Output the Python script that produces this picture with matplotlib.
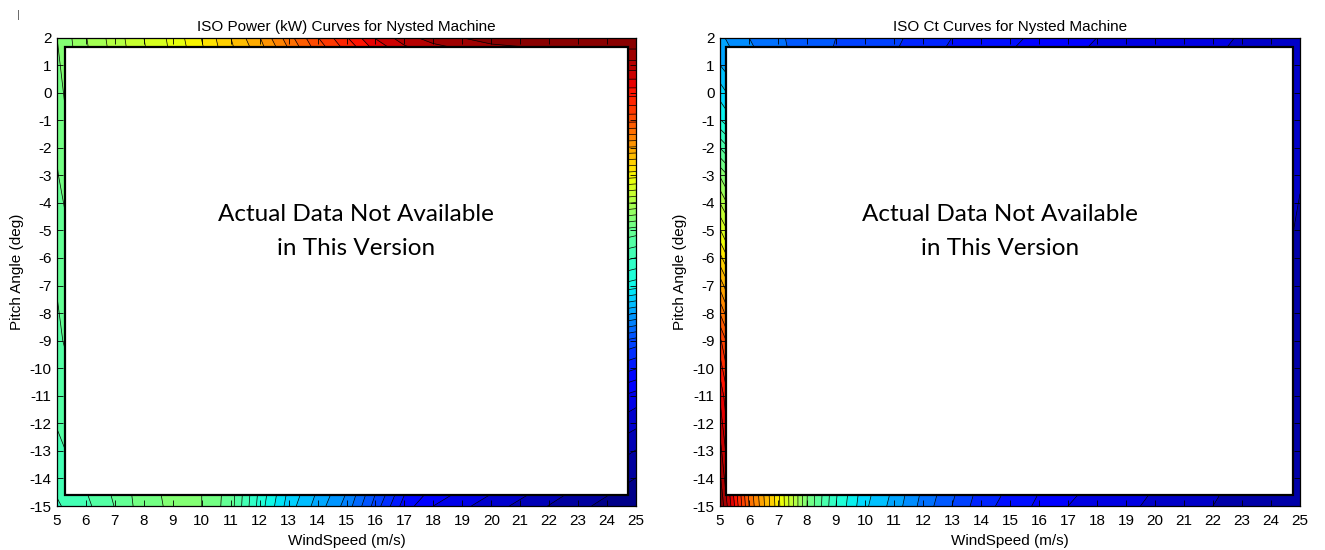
import matplotlib
matplotlib.use("Agg")
import matplotlib.pyplot as plt
from matplotlib.patches import Rectangle
import numpy as np

# Grid axes
wind_speed = [5, 6, 7, 8, 9, 10, 11, 12, 13, 14, 15, 16, 17, 18, 20, 22, 25]
pitch_angle = [2, 1, -1, -3, -5, -7, -9, -11, -13, -15]

# ISO power (kW); one row per pitch angle, one column per wind speed
power_kw = [
    [1150, 1240, 1310, 1380, 1440, 1520, 1610, 1700, 1820, 1930, 2020, 2120, 2190, 2230, 2280, 2300, 2300],
    [1140, 1230, 1300, 1370, 1430, 1500, 1590, 1660, 1760, 1870, 1950, 2030, 2090, 2130, 2170, 2190, 2190],
    [1120, 1210, 1270, 1340, 1390, 1450, 1520, 1560, 1630, 1710, 1770, 1820, 1850, 1880, 1900, 1910, 1900],
    [1100, 1180, 1230, 1290, 1330, 1380, 1410, 1420, 1450, 1500, 1530, 1550, 1550, 1550, 1550, 1530, 1490],
    [1080, 1140, 1190, 1240, 1270, 1300, 1310, 1270, 1270, 1290, 1290, 1270, 1240, 1230, 1200, 1160, 1080],
    [1060, 1120, 1170, 1220, 1250, 1270, 1260, 1200, 1170, 1160, 1140, 1100, 1050, 1020, 980, 940, 850],
    [1050, 1090, 1130, 1180, 1190, 1190, 1160, 1050, 990, 950, 900, 830, 740, 700, 630, 560, 440],
    [1030, 1070, 1100, 1150, 1170, 1150, 1110, 970, 870, 810, 750, 650, 540, 480, 410, 330, 210],
    [1000, 1040, 1080, 1140, 1170, 1150, 1090, 930, 810, 730, 650, 530, 410, 350, 270, 200, 90],
    [960, 1000, 1060, 1130, 1160, 1150, 1080, 900, 760, 670, 580, 440, 300, 230, 160, 90, 0],
]

# Thrust coefficient Ct; same layout
thrust_ct = [
    [0.280, 0.250, 0.230, 0.210, 0.200, 0.190, 0.180, 0.165, 0.150, 0.140, 0.130, 0.120, 0.110, 0.100, 0.090, 0.080, 0.060],
    [0.300, 0.263, 0.237, 0.210, 0.196, 0.183, 0.173, 0.156, 0.141, 0.130, 0.121, 0.111, 0.101, 0.092, 0.084, 0.075, 0.058],
    [0.377, 0.318, 0.279, 0.236, 0.211, 0.192, 0.178, 0.159, 0.141, 0.127, 0.117, 0.107, 0.096, 0.088, 0.079, 0.070, 0.055],
    [0.522, 0.440, 0.383, 0.321, 0.283, 0.254, 0.233, 0.207, 0.183, 0.162, 0.148, 0.134, 0.119, 0.108, 0.092, 0.076, 0.051],
    [0.627, 0.524, 0.452, 0.372, 0.322, 0.285, 0.260, 0.228, 0.201, 0.176, 0.159, 0.143, 0.126, 0.113, 0.094, 0.075, 0.048],
    [0.741, 0.617, 0.530, 0.431, 0.370, 0.324, 0.294, 0.257, 0.224, 0.195, 0.175, 0.156, 0.137, 0.123, 0.099, 0.076, 0.044],
    [0.856, 0.710, 0.607, 0.491, 0.417, 0.363, 0.328, 0.285, 0.248, 0.213, 0.192, 0.170, 0.148, 0.132, 0.105, 0.077, 0.041],
    [0.921, 0.756, 0.640, 0.508, 0.425, 0.365, 0.327, 0.281, 0.242, 0.205, 0.183, 0.161, 0.138, 0.124, 0.097, 0.071, 0.037],
    [0.960, 0.778, 0.650, 0.504, 0.412, 0.347, 0.309, 0.260, 0.221, 0.182, 0.161, 0.140, 0.119, 0.107, 0.084, 0.060, 0.034],
    [1.000, 0.800, 0.660, 0.500, 0.400, 0.330, 0.290, 0.240, 0.200, 0.160, 0.140, 0.120, 0.100, 0.090, 0.070, 0.050, 0.030],
]

x_ticks = list(range(5, 26))
y_ticks = list(range(-15, 3))

titles = ["ISO Power (kW) Curves for Nysted Machine", "ISO Ct Curves for Nysted Machine"]
notice = ["Actual Data Not Available", "in This Version"]

plt.rcParams["font.family"] = ["Liberation Sans", "DejaVu Sans"]
plt.rcParams["axes.unicode_minus"] = False

fig = plt.figure(figsize=(13.25, 5.5), dpi=100)

panels = [
    dict(rect=[57 / 1325, 44 / 550, 579 / 1325, 468.5 / 550], z=power_kw,
         levels=np.linspace(0, 2300, 51), cover=(0.0138, 0.0235, 0.9855, 0.980),
         text_x=0.516, title=titles[0]),
    dict(rect=[720 / 1325, 44 / 550, 580 / 1325, 468.5 / 550], z=thrust_ct,
         levels=np.linspace(0, 1.0, 41), cover=(0.0112, 0.0235, 0.9872, 0.980),
         text_x=0.483, title=titles[1]),
]

W, P = np.meshgrid(wind_speed, pitch_angle)

for p in panels:
    ax = fig.add_axes(p["rect"])
    Z = np.array(p["z"], dtype=float)
    ax.contourf(W, P, Z, levels=p["levels"], cmap="jet", extend="both", zorder=1)
    ax.contour(W, P, Z, levels=p["levels"], colors="black", linewidths=0.5, zorder=2)

    ax.set_xlim(5, 25)
    ax.set_ylim(-15, 2)
    ax.set_xticks(x_ticks)
    ax.set_yticks(y_ticks)
    ax.tick_params(direction="in", length=4, width=0.6, top=True, right=True,
                   labelsize=11)
    ax.tick_params(axis="x", pad=6)
    ax.tick_params(axis="y", pad=4)
    for s in ax.spines.values():
        s.set_linewidth(0.9)

    x0, y0, x1, y1 = p["cover"]
    ax.add_patch(Rectangle((x0, y0), x1 - x0, y1 - y0, transform=ax.transAxes,
                           facecolor="white", edgecolor="black", linewidth=1.6,
                           zorder=3))
    ax.text(p["text_x"], 0.623, notice[0], transform=ax.transAxes, ha="center",
            va="center", fontsize=17.5, family=["Lato", "DejaVu Sans"], zorder=4)
    ax.text(p["text_x"], 0.549, notice[1], transform=ax.transAxes, ha="center",
            va="center", fontsize=17.5, family=["Lato", "DejaVu Sans"], zorder=4)

    ax.set_title(p["title"], fontsize=11, pad=4.5)
    ax.set_xlabel("WindSpeed (m/s)", fontsize=11, labelpad=4)
    ax.set_ylabel("Pitch Angle (deg)", fontsize=11, labelpad=4)

fig.text(0.0136, 0.972, "|", fontsize=8, color="0.35", ha="center", va="center")

fig.savefig("out.png", dpi=100)
